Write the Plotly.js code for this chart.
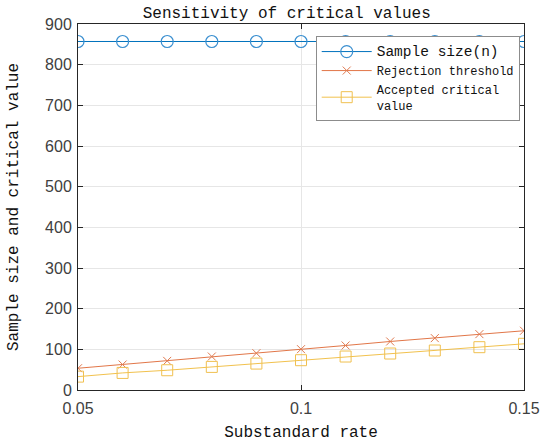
<!DOCTYPE html>
<html>
<head>
<meta charset="utf-8">
<script src="https://cdn.plot.ly/plotly-3.0.1.min.js"></script>
<style>html,body{margin:0;padding:0;background:#fff}#chart{width:541px;height:448px}</style>
</head>
<body>
<div id="chart"></div>
<script>
var rates = [0.05, 0.06, 0.07, 0.08, 0.09, 0.10, 0.11, 0.12, 0.13, 0.14, 0.15];
var sampleSize = [857, 857, 857, 857, 857, 857, 857, 857, 857, 857, 857];
var rejection = [53.5, 62.6, 71.6, 82.3, 90.5, 100.4, 109.5, 119.3, 127.6, 137.4, 145.7];
var accepted = [32.9, 42, 48.6, 56.8, 65, 73.3, 82.3, 89.7, 97.1, 105.3, 113.6];
var xTicks = [0.05, 0.1, 0.15];
var xTickText = ['0.05', '0.1', '0.15'];
var yTicks = [0, 100, 200, 300, 400, 500, 600, 700, 800, 900];

var mono = 'Liberation Mono, monospace';
var sans = 'Liberation Sans, Arial, sans-serif';

var traces = [
  {x: rates, y: sampleSize, type: 'scatter', mode: 'lines+markers',
   name: '<span style="font-size:14.5px">Sample size(n)</span>',
   line: {color: '#0072BD', width: 1},
   marker: {symbol: 'circle-open', size: 12, color: '#3a8fd0', line: {width: 1.2}}},
  {x: rates, y: rejection, type: 'scatter', mode: 'lines+markers',
   name: 'Rejection threshold',
   line: {color: '#D95319', width: 0.8},
   marker: {symbol: 'x-thin-open', size: 8, color: '#e07a50', line: {width: 1, color: '#e07a50'}}},
  {x: rates, y: accepted, type: 'scatter', mode: 'lines+markers',
   name: 'Accepted critical<br>value',
   line: {color: '#EDB120', width: 0.8},
   marker: {symbol: 'square-open', size: 11, color: '#f0c050', line: {width: 1}}}
];

var layout = {
  width: 541, height: 448,
  margin: {l: 78, r: 17, t: 24, b: 58},
  paper_bgcolor: '#fff', plot_bgcolor: '#fff',
  showlegend: true,
  title: {text: 'Sensitivity of critical values', font: {family: mono, size: 16, color: '#111'},
          x: 0.53, xanchor: 'center', y: 0.985, yanchor: 'top'},
  xaxis: {
    range: [0.05, 0.15], tickvals: xTicks, ticktext: xTickText,
    showline: true, mirror: 'ticks', linecolor: '#262626', linewidth: 1,
    ticks: 'inside', ticklen: 5, tickcolor: '#262626',
    showgrid: true, gridcolor: '#e6e6e6', zeroline: false,
    ticklabelstandoff: 4,
    tickfont: {family: sans, size: 16, color: '#404040'},
    title: {text: 'Substandard rate', font: {family: mono, size: 16, color: '#111'}, standoff: 9}
  },
  yaxis: {
    range: [0, 900], tickvals: yTicks,
    showline: true, mirror: 'ticks', linecolor: '#262626', linewidth: 1,
    ticks: 'inside', ticklen: 5, tickcolor: '#262626',
    showgrid: true, gridcolor: '#e6e6e6', zeroline: false,
    ticklabelstandoff: 2,
    tickfont: {family: sans, size: 16, color: '#404040'},
    title: {text: 'Sample size and critical value', font: {family: mono, size: 16, color: '#111'}, standoff: 22}
  },
  legend: {
    x: 0.533, y: 0.967, xanchor: 'left', yanchor: 'top',
    bgcolor: '#fff', bordercolor: '#8c8c8c', borderwidth: 1,
    font: {family: mono, size: 12, color: '#111'},
    itemwidth: 50, tracegroupgap: 0
  }
};

Plotly.newPlot('chart', traces, layout, {displayModeBar: false, staticPlot: true});
</script>
</body>
</html>
